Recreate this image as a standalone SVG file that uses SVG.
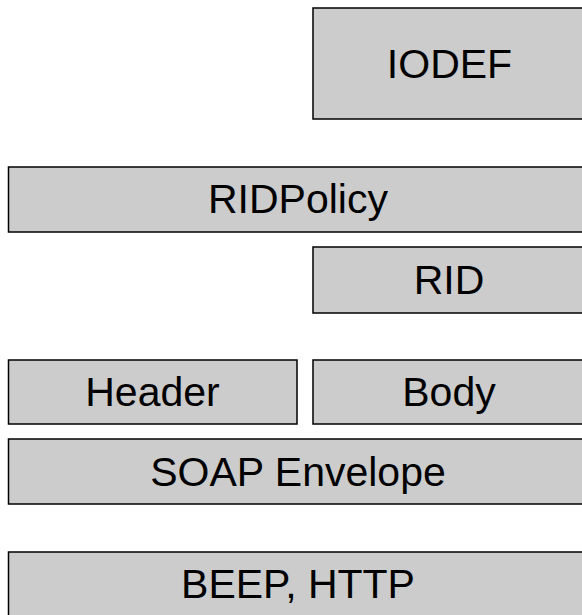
<svg xmlns="http://www.w3.org/2000/svg" width="582" height="615" viewBox="0 0 582 615">
<style>
.box{fill:#cccccc;stroke:#000;stroke-width:1.5}
.lbl{font-family:"Liberation Sans",Arial,sans-serif;font-size:41px;fill:#000;text-anchor:middle}
</style>
<rect x="0" y="0" width="582" height="615" fill="#fff"/>
<g id="iodef"><rect class="box" x="313" y="8" width="280" height="111"/><text class="lbl" x="449.5" y="78">IODEF</text></g>
<g id="ridpolicy"><rect class="box" x="8.5" y="167" width="585" height="65"/><text class="lbl" x="298" y="213">RIDPolicy</text></g>
<g id="rid"><rect class="box" x="313" y="247" width="280" height="66"/><text class="lbl" x="449" y="294">RID</text></g>
<g id="header"><rect class="box" x="8.5" y="360" width="288.5" height="64"/><text class="lbl" x="152.5" y="406">Header</text></g>
<g id="body"><rect class="box" x="313" y="360" width="280" height="64"/><text class="lbl" x="449" y="406">Body</text></g>
<g id="soap"><rect class="box" x="8.5" y="439" width="585" height="65"/><text class="lbl" x="298" y="485.5">SOAP Envelope</text></g>
<g id="beep"><rect class="box" x="8.5" y="552" width="585" height="70"/><text class="lbl" x="298" y="598">BEEP, HTTP</text></g>
<g id="connectors"></g>
</svg>
